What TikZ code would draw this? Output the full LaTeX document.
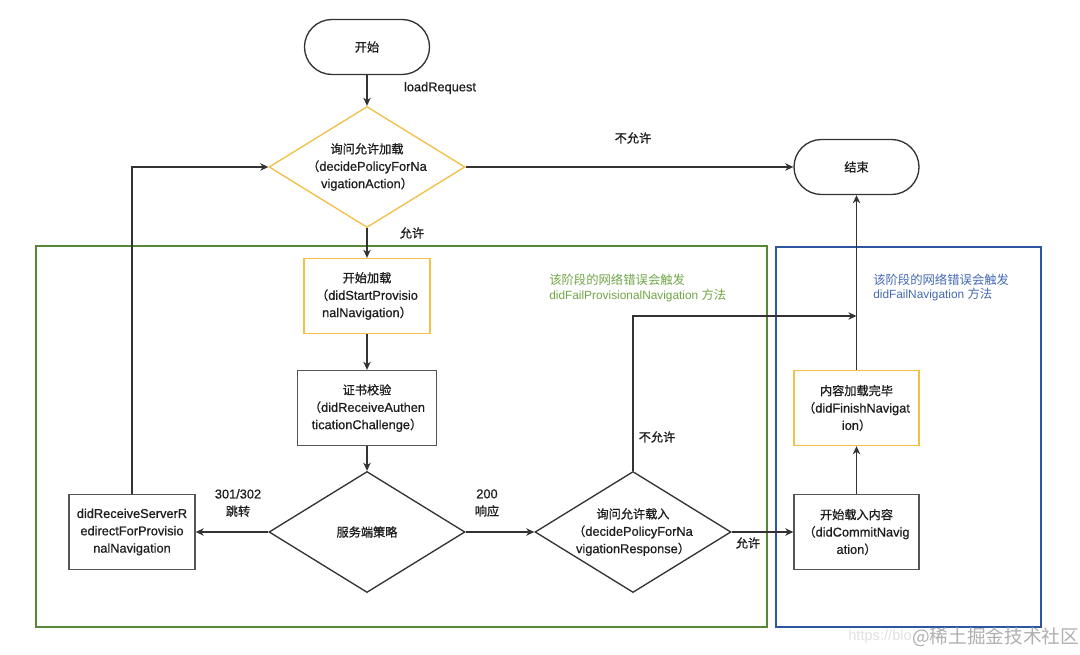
\documentclass[tikz,border=0pt]{standalone}
\usepackage{fontspec}
\setmainfont{Liberation Sans}
\newfontfamily\nodefont{Liberation Sans}[FakeBold=0.7]
\newfontfamily\cjk{Noto Sans CJK SC}[Scale=0.95,FakeBold=0.9]
\newfontfamily\cjkn{Noto Sans CJK SC}[Scale=1.04]
\newfontfamily\cjkw{Noto Sans CJK SC}
\usetikzlibrary{arrows.meta,shapes.geometric}
\definecolor{ln}{RGB}{51,51,51}
\definecolor{yel}{RGB}{242,192,70}
\definecolor{gbox}{RGB}{88,135,55}
\definecolor{bbox}{RGB}{45,85,160}
\definecolor{gtxt}{RGB}{112,166,70}
\definecolor{btxt}{RGB}{68,105,180}
\definecolor{gbord}{RGB}{85,85,85}
\definecolor{tx}{RGB}{30,30,30}
\newcommand\zhc[1]{{\cjk #1}}
\newcommand\zhn[1]{{\cjkn #1}}
\tikzset{
  txt/.style={text=tx, font=\nodefont\fontsize{9.6}{13}\selectfont, align=center, inner sep=0pt},
  term/.style={draw=ln, line width=1pt, rounded corners=20.6pt, minimum width=93.75pt, minimum height=41.25pt, inner sep=0pt, txt},
  dia/.style={diamond, draw=ln, line width=1pt, minimum width=147pt, minimum height=90.75pt, inner sep=0pt},
  ydia/.style={dia, draw=yel},
  box/.style={draw=gbord, line width=1pt, minimum height=56.25pt, inner sep=0pt, txt},
  ybox/.style={box, draw=yel},
  arr/.style={draw=ln, line width=1pt, -{Stealth[length=6pt,width=5.5pt,inset=1.8pt]}},
  lbl/.style={txt},
  note/.style={font=\fontsize{8.9}{10.9}\selectfont, align=left, inner sep=0pt, anchor=west}
}
\begin{document}
\begin{tikzpicture}[x=0.75pt,y=-0.75pt]
\useasboundingbox (0,0) rectangle (1080,655);
\fill[white] (0,0) rectangle (1080,655);

% containers
\draw[gbox, line width=1.8pt] (36,246) rectangle (767,627);
\draw[bbox, line width=1.8pt] (776,247) rectangle (1041,627);

% nodes
\node[term] (start) at (367,47) {\zhc{开始}};
\node[term] (end) at (856.5,167) {\zhc{结束}};

\node[ydia] (d1) at (367,167) {};
\node[txt] (d1t) at (d1) {\zhc{询问允许加载}\\\zhc{（}decidePolicyForNa\\vigationAction\zhc{）}};

\node[ybox, minimum width=94.5pt] (b1) at (367,296) {\zhc{开始加载}\\\zhc{（}didStartProvisio\\nalNavigation\zhc{）}};
\node[box, minimum width=104.25pt] (b2) at (367,408) {\zhc{证书校验}\\\zhc{（}didReceiveAuthen\\ticationChallenge\zhc{）}};

\node[dia] (d2) at (367,532) {};
\node[txt] (d2t) at (d2) {\zhc{服务端策略}};

\node[box, minimum width=94.5pt] (rd) at (132,532) {didReceiveServerR\\edirectForProvisio\\nalNavigation};

\node[dia] (d3) at (633,532) {};
\node[txt] (d3t) at (d3) {\zhc{询问允许载入}\\\zhc{（}decidePolicyForNa\\vigationResponse\zhc{）}};

\node[box, minimum width=93.75pt] (cm) at (856.5,532) {\zhc{开始载入内容}\\\zhc{（}didCommitNavig\\ation\zhc{）}};
\node[ybox, minimum width=93.75pt] (fn) at (856.5,408) {\zhc{内容加载完毕}\\\zhc{（}didFinishNavigat\\ion\zhc{）}};

\coordinate (merge) at (856.5,316);

% connectors
\draw[arr] (start.south) -- (d1.north);
\draw[arr] (d1.east) -- (end.west);
\draw[arr] (d1.south) -- (b1.north);
\draw[arr] (b1.south) -- (b2.north);
\draw[arr] (b2.south) -- (d2.north);
\draw[arr] (d2.west) -- (rd.east);
\draw[arr] (rd.north) |- (d1.west);
\draw[arr] (d2.east) -- (d3.west);
\draw[arr] (d3.north) |- (merge);
\draw[arr] (d3.east) -- (cm.west);
\draw[arr] (cm.north) -- (fn.south);
\draw[arr] (fn.north) -- (end.south);

% labels
\node[lbl] (l1) at (440,88) {loadRequest};
\node[lbl] (l2) at (633,138) {\zhc{不允许}};
\node[lbl] (l3) at (412,233) {\zhc{允许}};
\node[lbl] (l4) at (238,503) {301/302\\\zhc{跳转}};
\node[lbl] (l5) at (487,503) {200\\\zhc{响应}};
\node[lbl] (l6) at (657,437) {\zhc{不允许}};
\node[lbl] (l7) at (748,543) {\zhc{允许}};

% notes
\node[note, text=gtxt] (n1) at (549,288) {\zhn{该阶段的网络错误会触发}\\didFailProvisionalNavigation \zhn{方法}};
\node[note, text=btxt] (n2) at (873,287.5) {\zhn{该阶段的网络错误会触发}\\didFailNavigation \zhn{方法}};

% watermark
\node[anchor=west, inner sep=0pt, text={rgb,255:red,225;green,225;blue,225}, font=\fontsize{11}{12}\selectfont] (w1) at (848,637) {https://blo};
\node[anchor=west, inner sep=0pt, text={rgb,255:red,175;green,175;blue,175}, font=\cjkw\fontsize{14}{15}\selectfont] (w2) at (912,637) {@稀土掘金技术社区};
\end{tikzpicture}
\end{document}
